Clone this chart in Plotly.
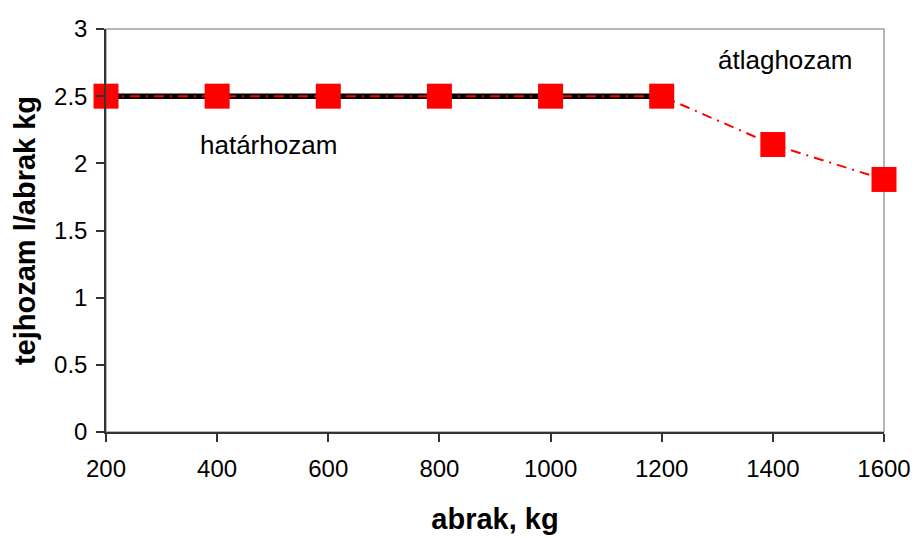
import plotly.graph_objects as go

# feed amounts (kg) and yields (l milk per kg feed)
abrak = [200, 400, 600, 800, 1000, 1200, 1400, 1600]
atlaghozam = [2.5, 2.5, 2.5, 2.5, 2.5, 2.5, 2.14, 1.88]
hatar_x = [200, 400, 600, 800, 1000, 1200]
hatarhozam = [2.5, 2.5, 2.5, 2.5, 2.5, 2.5]

x_ticks = [200, 400, 600, 800, 1000, 1200, 1400, 1600]
y_ticks = [0, 0.5, 1, 1.5, 2, 2.5, 3]
y_labels = ["0", "0.5", "1", "1.5", "2", "2.5", "3"]

FONT = "Liberation Sans, Arial, sans-serif"

fig = go.Figure()

# marginal yield: thick black line
fig.add_trace(go.Scatter(
    x=hatar_x, y=hatarhozam, mode="lines",
    line=dict(color="black", width=5.5),
    showlegend=False, cliponaxis=False,
))

# average yield: red dash-dot line with square markers
fig.add_trace(go.Scatter(
    x=abrak, y=atlaghozam, mode="lines+markers",
    line=dict(color="#ff0000", width=2, dash="10px,6px,2px,6px"),
    marker=dict(symbol="square", size=25, color="#ff0000",
                line=dict(width=0)),
    showlegend=False, cliponaxis=False,
))

fig.add_annotation(x=492, y=2.14, text="határhozam", showarrow=False,
                   font=dict(family=FONT, size=26, color="black"))
fig.add_annotation(x=1422, y=2.77, text="átlaghozam", showarrow=False,
                   font=dict(family=FONT, size=26, color="black"))

# light frame around the plot area
fig.add_shape(type="rect", xref="paper", yref="paper", x0=0, y0=0, x1=1, y1=1,
              line=dict(color="#a0a0a0", width=1.5), layer="below")

fig.update_xaxes(
    range=[200, 1600], tickvals=x_ticks, ticks="outside", ticklen=8,
    tickcolor="#333333", tickwidth=1.5, automargin=False,
    showline=True, linecolor="#333333", linewidth=1.5,
    showgrid=False, zeroline=False, ticklabelstandoff=6,
    tickfont=dict(family=FONT, size=24, color="black"),
    title=dict(text="<b>abrak, kg</b>", font=dict(family=FONT, size=29, color="black"),
               standoff=28),
)
fig.update_yaxes(
    range=[0, 3], tickvals=y_ticks, ticktext=y_labels, ticks="outside", ticklen=8,
    tickcolor="#333333", tickwidth=1.5, automargin=False,
    showline=True, linecolor="#333333", linewidth=1.5,
    showgrid=False, zeroline=False, ticklabelstandoff=4,
    tickfont=dict(family=FONT, size=24, color="black"),
    title=dict(text="<b>tejhozam l/abrak kg</b>", font=dict(family=FONT, size=29, color="black"),
               standoff=10),
)

fig.update_layout(
    width=916, height=538,
    margin=dict(l=106, r=32, t=29, b=106),
    paper_bgcolor="white", plot_bgcolor="white",
    font=dict(family=FONT, color="black"),
)

fig.write_html("out.html")
